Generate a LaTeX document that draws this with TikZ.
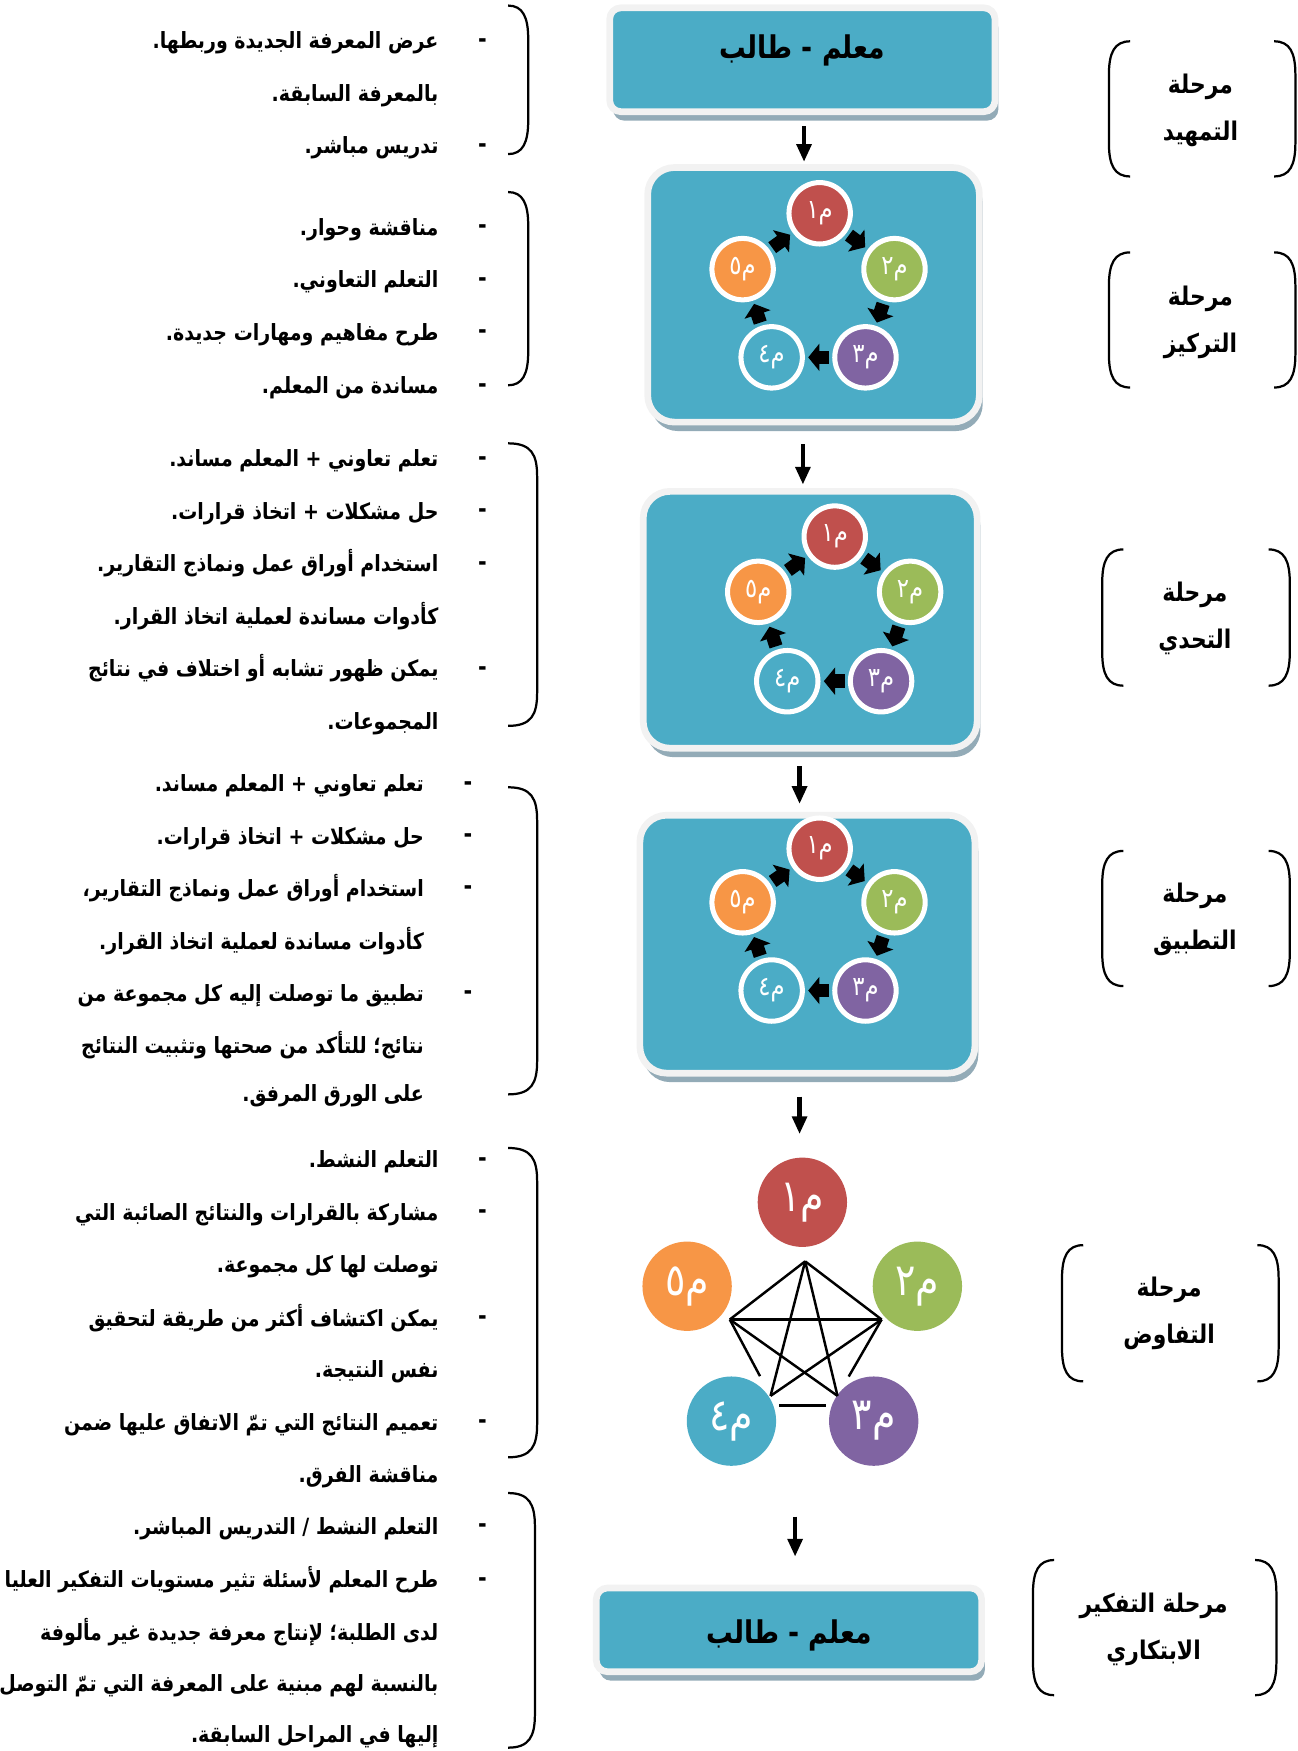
\documentclass[tikz,border=0pt]{standalone}
\usepackage{fontspec}
\usetikzlibrary{arrows.meta,calc,shadows}
\TeXXeTstate=1
\newfontfamily\arabicfont[Script=Arabic,FakeStretch=0.85]{DejaVu Sans}
\definecolor{aqua}{HTML}{4BACC6}
\definecolor{mred}{HTML}{C0504D}
\definecolor{mgreen}{HTML}{9BBB59}
\definecolor{mpurple}{HTML}{8064A2}
\definecolor{morange}{HTML}{F79646}
\definecolor{rim}{HTML}{F2F2F2}
\definecolor{panelshadow}{HTML}{93ABB7}
\tikzset{
  panel/.style={draw=rim, line width=3pt, fill=aqua, rounded corners=#1, inner sep=0pt,
    drop shadow={shadow xshift=1.5pt, shadow yshift=-4pt, fill=panelshadow, opacity=1},
    font=\arabicfont\bfseries\fontsize{14}{18}\selectfont},
  ring/.style={circle, draw=white, line width=2.25pt, minimum size=27.5pt, inner sep=0pt,
    text=white, font=\arabicfont\fontsize{12}{12}\selectfont},
  ball/.style={circle, minimum size=40pt, inner sep=0pt, text=white,
    font=\arabicfont\fontsize{20}{20}\selectfont},
  cyc/.style={line width=6pt, -{Triangle[length=5pt,width=12pt]}, shorten <=1.5pt, shorten >=1.5pt},
  flow/.style={line width=2pt, -{Triangle[length=8pt,width=6.5pt]}},
  web/.style={line width=1.1pt},
  brk/.style={line width=1pt},
  ln/.style={anchor=mid east, inner sep=0pt, yshift=-1.75pt, font=\arabicfont\bfseries\fontsize{10}{12}\selectfont},
  bul/.style={inner sep=0pt, yshift=-1.25pt, font=\arabicfont\bfseries\fontsize{11}{12}\selectfont},
  phase/.style={align=center, inner sep=0pt, yshift=-1pt, font=\arabicfont\bfseries\fontsize{11.5}{21}\selectfont},
}
\begin{document}
\begin{tikzpicture}[x=0.5pt,y=-0.5pt]
\useasboundingbox (0,0) rectangle (1162,1568);

% ---------- centre column panels ----------
\node[panel=5pt, minimum width=172.5pt, minimum height=46.5pt] (b1) at (718.5,53.5)
  {\raisebox{0.5pt}[0pt][0pt]{\beginR معلم - طالب\endR}};
\node[panel=12pt, minimum width=148.5pt, minimum height=114pt] (b2) at (728.5,264) {};
\node[panel=12pt, minimum width=149.5pt, minimum height=115pt] (b3) at (725.5,555) {};
\node[panel=12pt, minimum width=150pt, minimum height=115.5pt] (b4) at (723,845.5) {};
\node[panel=5pt, minimum width=172.5pt, minimum height=37.5pt] (b6) at (706.5,1459.5)
  {\raisebox{-6.25pt}[0pt][0pt]{\beginR معلم - طالب\endR}};

% ---------- cycle circles ----------
\foreach \p/\ax/\ay/\bx/\by/\cx/\cy/\dx/\dy/\ex/\ey in {
   2/734/191/801/241/775/320/691/320/665/241,
   3/747.5/480.5/815/530/789/610/705/610/679/530,
   4/734/760/801/808/775/887/691/887/665/808}{
  \node[ring, fill=mred]    (c\p1) at (\ax,\ay) {\beginR م١\endR};
  \node[ring, fill=mgreen]  (c\p2) at (\bx,\by) {\beginR م٢\endR};
  \node[ring, fill=mpurple] (c\p3) at (\cx,\cy) {\beginR م٣\endR};
  \node[ring, fill=aqua]    (c\p4) at (\dx,\dy) {\beginR م٤\endR};
  \node[ring, fill=morange] (c\p5) at (\ex,\ey) {\beginR م٥\endR};
  \draw[cyc] (c\p1) -- (c\p2);
  \draw[cyc] (c\p2) -- (c\p3);
  \draw[cyc] (c\p3) -- (c\p4);
  \draw[cyc] (c\p4) -- (c\p5);
  \draw[cyc] (c\p5) -- (c\p1);
}

% ---------- negotiation pentagon ----------
\node[ball, fill=mred]    (n1) at (718.5,1076.6) {\beginR م١\endR};
\node[ball, fill=mgreen]  (n2) at (821.5,1151.8) {\beginR م٢\endR};
\node[ball, fill=mpurple] (n3) at (782.4,1272.6) {\beginR م٣\endR};
\node[ball, fill=aqua]    (n4) at (655,1272.6) {\beginR م٤\endR};
\node[ball, fill=morange] (n5) at (615.3,1151.8) {\beginR م٥\endR};
\coordinate (v1) at (721,1129.5);
\coordinate (v2) at (789.5,1181.6);
\coordinate (v3) at (750,1250);
\coordinate (v4) at (690,1250);
\coordinate (v5) at (653.5,1181.6);
\coordinate (w3) at (740,1258.6);
\coordinate (w4) at (697.7,1258.6);
\draw[web] (v1) -- (v2);
\draw[web] (v1) -- (v5);
\draw[web] (v1) -- (v3);
\draw[web] (v1) -- (v4);
\draw[web] (v5) -- (v2);
\draw[web, shorten >=10pt] (v5) -- (v4);
\draw[web] (v5) -- (v3);
\draw[web] (v2) -- (v4);
\draw[web, shorten >=10pt] (v2) -- (v3);
\draw[web] (w4) -- (w3);

% ---------- flow arrows ----------
\coordinate (a5) at (712,1358);
\draw[flow] ($(b1.south)+(1.5,10)$) -- ($(b2.north)+(-8.5,-2)$);
\draw[flow] ($(b2.south)+(-9.5,17)$) -- ($(b3.north)+(-6.5,-3)$);
\draw[flow] ($(b3.south)+(-9.5,13)$) -- ($(b4.north)+(-7,-7)$);
\draw[flow] ($(b4.south)+(-7,18)$) -- ($(n1.north)+(-2.5,-20.6)$);
\draw[flow] (a5) -- ($(b6.north)+(5.5,-25)$);

% ---------- phase labels (right) ----------
\node[phase] (p1) at (1075,96.5) {\beginR مرحلة\endR\\\beginR التمهيد\endR};
\node[phase] (p2) at (1075,286.5) {\beginR مرحلة\endR\\\beginR التركيز\endR};
\node[phase] (p3) at (1070,551.5) {\beginR مرحلة\endR\\\beginR التحدي\endR};
\node[phase] (p4) at (1070,821) {\beginR مرحلة\endR\\\beginR التطبيق\endR};
\node[phase] (p5) at (1047,1174) {\beginR مرحلة\endR\\\beginR التفاوض\endR};
\node[phase] (p6) at (1033,1457) {\beginR مرحلة التفكير\endR\\\beginR الابتكاري\endR};
\foreach \xa/\xb/\yt/\yb in {993/1160/37/158, 993/1160/226/347, 987/1155/492/614,
    987/1155/762/883, 951/1145/1115/1237, 925/1143/1397/1518}{
  \draw[brk] (\xa+19,\yt) .. controls (\xa+5,\yt) and (\xa,\yt+10) .. (\xa,\yt+30)
     -- (\xa,\yb-30) .. controls (\xa,\yb-10) and (\xa+5,\yb) .. (\xa+19,\yb);
  \draw[brk] (\xb-19,\yt) .. controls (\xb-5,\yt) and (\xb,\yt+10) .. (\xb,\yt+30)
     -- (\xb,\yb-30) .. controls (\xb,\yb-10) and (\xb-5,\yb) .. (\xb-19,\yb);
}

% ---------- left braces ----------
\foreach \yt/\yb/\xr in {5/138/473, 172/345/473, 397/650/481, 705/980/481,
    1028/1305/481, 1337/1565/479}{
  \draw[brk] (455,\yt) .. controls (\xr-5,\yt) and (\xr,\yt+10) .. (\xr,\yt+30)
     -- (\xr,\yb-30) .. controls (\xr,\yb-10) and (\xr-5,\yb) .. (455,\yb);
}

% ---------- left text ----------
\foreach \y [count=\i] in {36,130,203,250,297,345,410,457,504,598,1038,1085,1180,1273,1366,1414}
  \node[bul] (d\i) at (432,\y) {-};
\foreach \y [count=\i] in {701,748,795,889}
  \node[bul] (e\i) at (419,\y) {-};

\node[ln] (t01) at (393,36) {\beginR عرض المعرفة الجديدة وربطها.\endR};
\node[ln] (t02) at (393,83) {\beginR بالمعرفة السابقة.\endR};
\node[ln] (t03) at (393,130) {\beginR تدريس مباشر.\endR};

\node[ln] (t04) at (393,203) {\beginR مناقشة وحوار.\endR};
\node[ln] (t05) at (393,250) {\beginR التعلم التعاوني.\endR};
\node[ln] (t06) at (393,297) {\beginR طرح مفاهيم ومهارات جديدة.\endR};
\node[ln] (t07) at (393,345) {\beginR مساندة من المعلم.\endR};

\node[ln] (t08) at (393,410) {\beginR تعلم تعاوني + المعلم مساند.\endR};
\node[ln] (t09) at (393,457) {\beginR حل مشكلات + اتخاذ قرارات.\endR};
\node[ln] (t10) at (393,504) {\beginR استخدام أوراق عمل ونماذج التقارير.\endR};
\node[ln] (t11) at (393,551) {\beginR كأدوات مساندة لعملية اتخاذ القرار.\endR};
\node[ln] (t12) at (393,598) {\beginR يمكن ظهور تشابه أو اختلاف في نتائج\endR};
\node[ln] (t13) at (393,645) {\beginR المجموعات.\endR};

\node[ln] (t14) at (380,701) {\beginR تعلم تعاوني + المعلم مساند.\endR};
\node[ln] (t15) at (380,748) {\beginR حل مشكلات + اتخاذ قرارات.\endR};
\node[ln] (t16) at (380,795) {\beginR استخدام أوراق عمل ونماذج التقارير،\endR};
\node[ln] (t17) at (380,842) {\beginR كأدوات مساندة لعملية اتخاذ القرار.\endR};
\node[ln] (t18) at (380,889) {\beginR تطبيق ما توصلت إليه كل مجموعة من\endR};
\node[ln] (t19) at (380,936) {\beginR نتائج؛ للتأكد من صحتها وتثبيت النتائج\endR};
\node[ln] (t20) at (380,979) {\beginR على الورق المرفق.\endR};

\node[ln] (t21) at (393,1038) {\beginR التعلم النشط.\endR};
\node[ln] (t22) at (393,1085) {\beginR مشاركة بالقرارات والنتائج الصائبة التي\endR};
\node[ln] (t23) at (393,1132) {\beginR توصلت لها كل مجموعة.\endR};
\node[ln] (t24) at (393,1180) {\beginR يمكن اكتشاف أكثر من طريقة لتحقيق\endR};
\node[ln] (t25) at (393,1226) {\beginR نفس النتيجة.\endR};
\node[ln] (t26) at (393,1273) {\beginR تعميم النتائج التي تمّ الاتفاق عليها ضمن\endR};
\node[ln] (t27) at (393,1320) {\beginR مناقشة الفرق.\endR};

\node[ln] (t28) at (393,1366) {\beginR التعلم النشط / التدريس المباشر.\endR};
\node[ln] (t29) at (393,1414) {\beginR طرح المعلم لأسئلة تثير مستويات التفكير العليا\endR};
\node[ln] (t30) at (393,1461) {\beginR لدى الطلبة؛ لإنتاج معرفة جديدة غير مألوفة\endR};
\node[ln] (t31) at (393,1507) {\beginR بالنسبة لهم مبنية على المعرفة التي تمّ التوصل\endR};
\node[ln] (t32) at (393,1553) {\beginR إليها في المراحل السابقة.\endR};
\end{tikzpicture}
\end{document}
